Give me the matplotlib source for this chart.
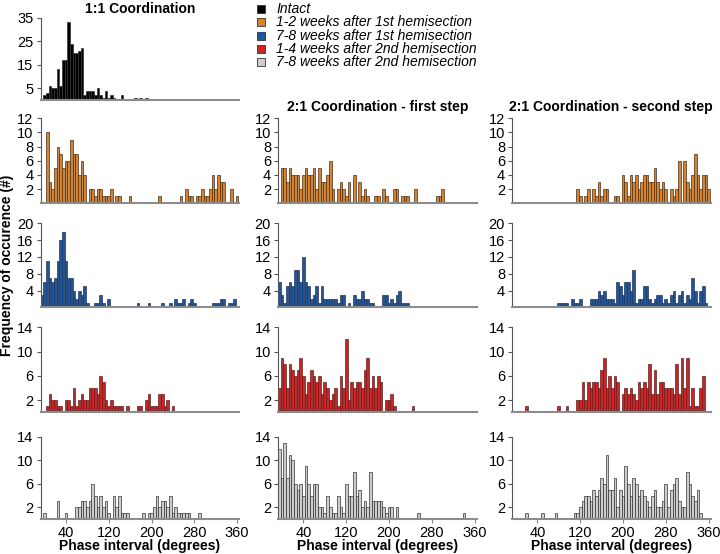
import matplotlib
matplotlib.use('Agg')
import matplotlib.pyplot as plt
from matplotlib.patches import Rectangle
import numpy as np

plt.rcParams['font.family'] = ['Liberation Sans', 'DejaVu Sans']

# counts per 5 degree bin, first bin centred on -5 degrees
intact_11 = [0, 2, 3, 6, 5, 5, 13, 6, 17, 17, 33, 24, 20, 20, 21, 22, 2, 4, 4, 4,
             2, 5, 2, 1, 4, 1, 2, 1, 0, 0, 2, 0, 0, 0, 0, 1, 0, 1, 0, 1]

h1_early_11 = [0, 0, 10, 3, 2, 5, 8, 7, 5, 6, 6, 9, 7, 7, 4, 6, 4, 0, 2, 2,
               1, 2, 2, 1, 1, 1, 2, 0, 1, 1, 0, 0, 0, 1, 0, 0, 0, 0, 0, 0,
               0, 0, 0, 0, 1, 0, 0, 0, 0, 0, 0, 0, 1, 0, 2, 1, 1, 0, 1, 1,
               2, 1, 1, 2, 4, 2, 4, 3, 3, 0, 0, 2, 0, 1]
h1_early_21a = [0, 5, 5, 3, 5, 4, 4, 4, 2, 4, 5, 4, 4, 5, 2, 5, 3, 3, 4, 6,
                2, 0, 2, 3, 2, 1, 3, 0, 4, 0, 3, 1, 2, 1, 0, 0, 1, 1, 0, 2,
                1, 0, 0, 2, 2, 0, 1, 1, 1, 0, 0, 2, 0, 0, 0, 0, 0, 0, 0, 1,
                1, 2]
h1_early_21b = [0] * 24 + [2, 1, 0, 1, 2, 0, 2, 1, 3, 1, 2, 2, 0, 0, 1, 1, 0, 4, 3, 1,
                           4, 3, 4, 2, 3, 4, 4, 3, 3, 5, 3, 2, 3, 2, 0, 2, 1, 2, 6, 0,
                           6, 3, 2, 4, 7, 4, 2, 4, 4, 2]

h1_late_11 = [3, 6, 11, 7, 6, 7, 11, 16, 18, 11, 7, 7, 4, 2, 4, 3, 5, 1, 0, 0,
              1, 1, 3, 1, 0, 2, 0, 0, 0, 0, 0, 0, 0, 0, 0, 0, 1, 0, 0, 0,
              1, 0, 0, 0, 0, 1, 0, 0, 1, 0, 2, 1, 1, 2, 0, 1, 2, 1, 0, 0,
              0, 0, 0, 0, 1, 1, 1, 2, 2, 0, 1, 1, 2]
h1_late_21a = [6, 3, 1, 5, 6, 5, 9, 9, 6, 12, 6, 5, 2, 3, 5, 1, 5, 2, 2, 2,
               2, 2, 1, 3, 3, 0, 1, 0, 3, 2, 2, 4, 2, 2, 1, 1, 0, 0, 0, 3,
               3, 1, 2, 1, 3, 4, 1, 1, 1]
h1_late_21b = [0] * 17 + [1, 1, 1, 1, 0, 2, 1, 1, 2, 0, 0, 0, 2, 2, 2, 4, 3, 4, 2, 2,
                          2, 1, 6, 5, 3, 6, 6, 4, 9, 1, 2, 2, 5, 5, 2, 1, 2, 3, 3, 1,
                          2, 1, 3, 4, 1, 3, 4, 1, 3, 2, 7, 4, 1, 4, 5, 1]

h2_early_11 = [0, 0, 1, 3, 2, 2, 1, 1, 0, 2, 2, 1, 4, 1, 2, 3, 2, 2, 4, 4,
               4, 3, 6, 5, 2, 1, 2, 1, 1, 1, 1, 0, 1, 0, 0, 0, 1, 1, 0, 2,
               3, 1, 1, 1, 3, 3, 1, 2, 0, 1]
h2_early_21a = [4, 9, 8, 4, 8, 7, 6, 7, 9, 6, 3, 5, 7, 6, 5, 6, 3, 5, 4, 2,
                3, 4, 1, 6, 4, 12, 2, 5, 4, 5, 5, 4, 7, 9, 4, 6, 4, 6, 5, 0,
                2, 2, 3, 1, 0, 0, 0, 0, 0, 0, 1]
h2_early_21b = [0, 0, 0, 0, 0, 1, 0, 0, 0, 0, 0, 0, 0, 0, 0, 0, 0, 1, 0, 0,
                1, 0, 0, 0, 2, 2, 5, 2, 5, 4, 5, 5, 4, 7, 9, 4, 6, 4, 6, 5,
                0, 3, 4, 3, 4, 3, 2, 5, 4, 5, 4, 8, 3, 7, 3, 5, 5, 4, 4, 4,
                3, 8, 3, 9, 4, 9, 1, 4, 1, 1, 4, 6]

h2_late_11 = [0, 1, 0, 0, 0, 0, 3, 0, 0, 1, 0, 0, 0, 2, 2, 3, 3, 2, 3, 6,
              4, 2, 4, 2, 3, 1, 0, 4, 2, 4, 1, 1, 1, 0, 0, 0, 0, 0, 1, 0,
              1, 1, 2, 4, 2, 3, 3, 2, 4, 1, 2, 1, 1, 1, 1, 1, 0, 0, 0, 1]
h2_late_21a = [12, 7, 13, 7, 11, 10, 6, 5, 6, 4, 9, 6, 4, 6, 6, 2, 2, 1, 4, 2,
               1, 1, 4, 2, 1, 6, 4, 4, 8, 4, 5, 2, 3, 2, 8, 3, 3, 3, 3, 2,
               1, 2, 2, 0, 2, 0, 0, 0, 0, 0, 0, 0, 1, 0, 0, 0, 0, 0, 0, 0,
               0, 0, 0, 0, 0, 0, 0, 0, 0, 1]
h2_late_21b = [0, 0, 0, 0, 0, 1, 0, 0, 0, 0, 0, 1, 0, 0, 0, 0, 1, 0, 0, 0,
               0, 0, 0, 1, 1, 2, 3, 4, 4, 3, 5, 4, 5, 7, 6, 11, 5, 5, 7, 2,
               5, 4, 9, 6, 4, 7, 6, 4, 5, 4, 3, 2, 4, 5, 2, 2, 3, 6, 2, 5,
               6, 7, 3, 2, 2, 8, 6, 4, 3, 5, 1]

legend_labels = ['Intact', '1-2 weeks after 1st hemisection', '7-8 weeks after 1st hemisection',
                 '1-4 weeks after 2nd hemisection', '7-8 weeks after 2nd hemisection']
colors = ['#000000', '#DC8228', '#1A57A6', '#DC1E1E', '#CDCDCD']
col_titles = ['1:1 Coordination', '2:1 Coordination - first step', '2:1 Coordination - second step']
row_yticks = [[5, 15, 25, 35], [2, 4, 6, 8, 10, 12], [4, 8, 12, 16, 20], [2, 6, 10, 14], [2, 6, 10, 14]]
xticks = [40, 120, 200, 280, 360]

data = [[intact_11, None, None],
        [h1_early_11, h1_early_21a, h1_early_21b],
        [h1_late_11, h1_late_21a, h1_late_21b],
        [h2_early_11, h2_early_21a, h2_early_21b],
        [h2_late_11, h2_late_21a, h2_late_21b]]

W, H = 720, 554
fig = plt.figure(figsize=(W / 100, H / 100), dpi=100)

col_left = [40.5, 278, 512]
col_w = 198.5
row_top = [17.7, 118.3, 223.3, 327.3, 437]
row_bot = [100, 203.3, 307.3, 412.3, 519]

for r in range(5):
    for c in range(3):
        counts = data[r][c]
        if counts is None:
            continue
        ax = fig.add_axes([col_left[c] / W, 1 - row_bot[r] / H, col_w / W, (row_bot[r] - row_top[r]) / H])
        centres = -5 + 5 * np.arange(len(counts))
        ax.bar(centres, counts, width=5, color=colors[r], edgecolor='#333333', linewidth=0.5)
        ax.set_xlim(-7.5, 363.5)
        ax.set_ylim(0, row_yticks[r][-1])
        ax.set_yticks(row_yticks[r])
        ax.set_xticks(xticks)
        if r < 4:
            ax.set_xticklabels([])
            ax.tick_params(axis='x', length=0)
        else:
            ax.tick_params(axis='x', length=3, color='#888888')
        ax.tick_params(axis='y', length=3, color='#555555')
        ax.tick_params(labelsize=10.5, pad=2)
        for s in ['top', 'right']:
            ax.spines[s].set_visible(False)
        ax.spines['left'].set_color('#555555')
        ax.spines['bottom'].set_color('#8c8c8c')
        ax.spines['bottom'].set_linewidth(1.5)

# titles
fig.text((col_left[0] + col_w / 2) / W, 1 - 9 / H, col_titles[0], ha='center', va='center',
         fontsize=10, fontweight='bold')
for c in (1, 2):
    fig.text((col_left[c] + col_w / 2) / W, 1 - 107 / H, col_titles[c], ha='center', va='center',
             fontsize=10, fontweight='bold')

# legend
for i, (lab, col) in enumerate(zip(legend_labels, colors)):
    yc = 9 + i * 13.25
    fig.patches.append(Rectangle((257 / W, 1 - (yc + 4) / H), 8 / W, 8 / H, transform=fig.transFigure,
                                 facecolor=col, edgecolor='#333333', linewidth=0.6))
    fig.text(276 / W, 1 - yc / H, lab, ha='left', va='center', fontsize=10, fontstyle='italic')

fig.text(7 / W, 1 - 265 / H, 'Frequency of occurence (#)', rotation=90, ha='center', va='center',
         fontsize=10, fontweight='bold')
for c in range(3):
    fig.text((col_left[c] + col_w / 2) / W, 1 - 546 / H, 'Phase interval (degrees)', ha='center',
             va='center', fontsize=10, fontweight='bold')

fig.savefig('out.png', dpi=100)
